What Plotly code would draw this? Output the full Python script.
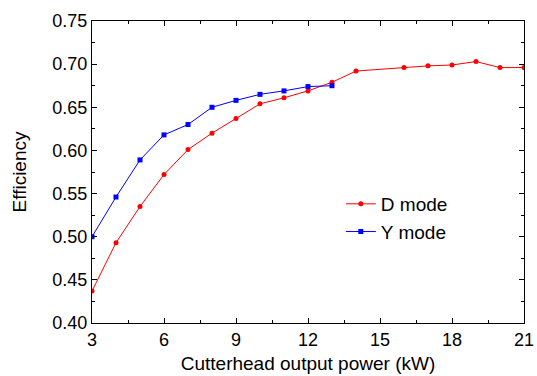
import plotly.graph_objects as go

d_x = [3, 4, 5, 6, 7, 8, 9, 10, 11, 12, 13, 14, 16, 17, 18, 19, 20, 21]
d_y = [0.437, 0.493, 0.535, 0.572, 0.601, 0.620, 0.637, 0.654, 0.661, 0.669, 0.679, 0.692, 0.696, 0.698, 0.699, 0.703, 0.696, 0.696]
y_x = [3, 4, 5, 6, 7, 8, 9, 10, 11, 12, 13]
y_y = [0.500, 0.546, 0.589, 0.618, 0.630, 0.650, 0.658, 0.665, 0.669, 0.674, 0.675]

fig = go.Figure()
fig.add_trace(go.Scatter(x=d_x, y=d_y, mode="lines+markers", name="D mode",
                         line=dict(color="#ff0000", width=1),
                         marker=dict(symbol="circle", size=5, color="#ff0000")))
fig.add_trace(go.Scatter(x=y_x, y=y_y, mode="lines+markers", name="Y mode",
                         line=dict(color="#0000ff", width=1),
                         marker=dict(symbol="square", size=5, color="#0000ff")))

axis_common = dict(showgrid=False, zeroline=False, showline=True, linecolor="black",
                   linewidth=1, mirror="ticks", ticks="inside", ticklen=5, tickcolor="black",
                   tickfont=dict(size=18, color="black"), automargin=False)
fig.update_xaxes(range=[3, 21], tickmode="linear", tick0=3, dtick=3,
                 title=dict(text="Cutterhead output power (kW)", font=dict(size=19, color="black"), standoff=8),
                 minor=dict(ticks="inside", ticklen=3, dtick=1.5, tick0=3, tickcolor="black"),
                 **axis_common)
fig.update_yaxes(range=[0.40, 0.75], tickmode="linear", tick0=0.40, dtick=0.05, tickformat=".2f",
                 title=dict(text="Efficiency", font=dict(size=19, color="black"), standoff=20),
                 minor=dict(ticks="inside", ticklen=3, dtick=0.025, tick0=0.40, tickcolor="black"),
                 **axis_common)
fig.update_layout(width=537, height=376, margin=dict(l=92, r=13, t=21, b=53),
                  paper_bgcolor="white", plot_bgcolor="white",
                  font=dict(family="Liberation Sans, Arial, sans-serif", color="black"),
                  legend=dict(x=0.576, y=0.457, xanchor="left", yanchor="top",
                              bgcolor="rgba(0,0,0,0)", font=dict(size=19), itemwidth=30,
                              tracegroupgap=0))
fig.write_html("out.html")
